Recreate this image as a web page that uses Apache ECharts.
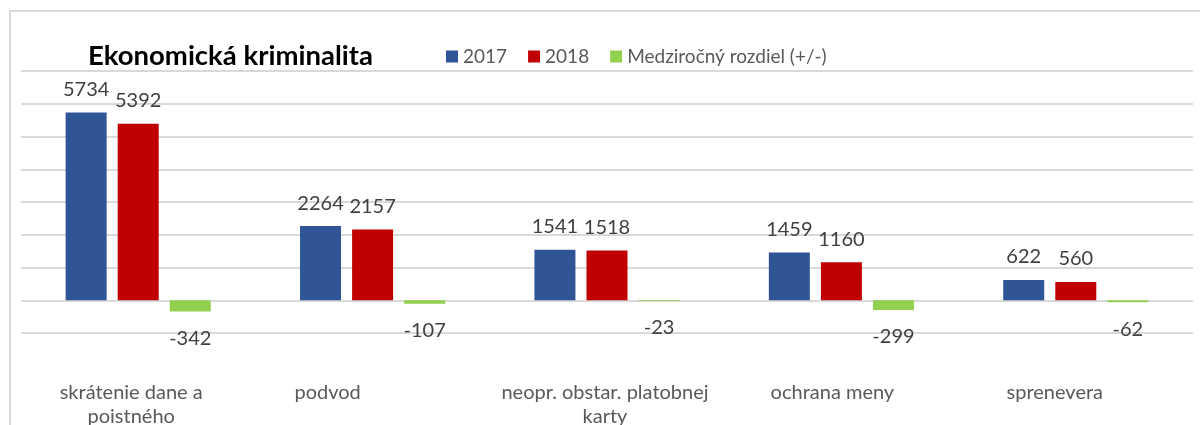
<!DOCTYPE html>
<html>
<head>
<meta charset="utf-8">
<script src="https://cdn.jsdelivr.net/npm/echarts@6/dist/echarts.min.js"></script>
<style>
  body { margin: 0; background: #fff; }
  #frame { position: absolute; left: 9px; top: 10px; width: 1300px; height: 500px;
           border-left: 2px solid #d9d9d9; border-top: 2px solid #d9d9d9; }
  #main { position: absolute; left: 0; top: 0; width: 1200px; height: 425px; }
</style>
</head>
<body>
<div id="frame"></div>
<div id="main"></div>
<script>
/*kategorie*/
var categories = ['skrátenie dane a\npoistného', 'podvod', 'neopr. obstar. platobnej\nkarty', 'ochrana meny', 'sprenevera'];
var y2017 = [5734, 2264, 1541, 1459, 622];
var y2018 = [5392, 2157, 1518, 1160, 560];
var rozdiel = [-342, -107, -23, -299, -62];
var seriesNames = ['2017', '2018', 'Medziročný rozdiel (+/-)'];

// posun popisov osi (Excel ich nezarovnava presne na stred)
var labelShift = [-7, -45, -2, -9, -21];

var fontFam = 'Lato, "Open Sans", sans-serif';

var chart = echarts.init(document.getElementById('main'));

var option = {
  animation: false,
  title: {
    text: 'Ekonomická kriminalita',
    left: 83,
    top: 37,
    textStyle: { fontFamily: fontFam, fontSize: 27.5, fontWeight: 'bold', color: '#000' }
  },
  legend: {
    left: 441,
    top: 42,
    itemWidth: 12,
    itemHeight: 12,
    itemGap: 21,
    icon: 'rect',
    textStyle: { fontFamily: fontFam, fontSize: 19, color: '#595959' },
    data: seriesNames
  },
  grid: { left: 21, right: 7, top: 71, bottom: 92, containLabel: false, outerBoundsMode: 'none' },
  xAxis: {
    type: 'category',
    data: categories.map(function (c, i) {
      return { value: c, textStyle: { padding: [0, -2 * labelShift[i], 0, 0] } };
    }),
    axisLine: { show: false },
    axisTick: { show: false },
    axisLabel: {
      margin: 48,
      fontFamily: fontFam,
      fontSize: 20,
      lineHeight: 24,
      color: '#595959',
      interval: 0
    }
  },
  yAxis: {
    type: 'value',
    min: -1000,
    max: 7000,
    interval: 1000,
    axisLabel: { show: false },
    axisLine: { show: false },
    axisTick: { show: false },
    splitLine: { lineStyle: { color: '#d9d9d9', width: 2 } }
  },
  series: [
    {
      name: seriesNames[0],
      type: 'bar',
      data: y2017,
      barWidth: 41,
      barGap: '27%',
      itemStyle: { color: '#2F5597' },
      label: { show: true, position: 'top', distance: 13, fontFamily: fontFam, fontSize: 20, color: '#404040' }
    },
    {
      name: seriesNames[1],
      type: 'bar',
      data: y2018,
      barWidth: 41,
      barGap: '27%',
      itemStyle: { color: '#C00000' },
      label: { show: true, position: 'top', distance: 13, fontFamily: fontFam, fontSize: 20, color: '#404040' }
    },
    {
      name: seriesNames[2],
      type: 'bar',
      data: rozdiel,
      barWidth: 41,
      barGap: '27%',
      itemStyle: { color: '#92D050' },
      label: { show: true, position: 'bottom', distance: 17, fontFamily: fontFam, fontSize: 20, color: '#404040' }
    }
  ]
};

chart.setOption(option);
</script>
</body>
</html>
